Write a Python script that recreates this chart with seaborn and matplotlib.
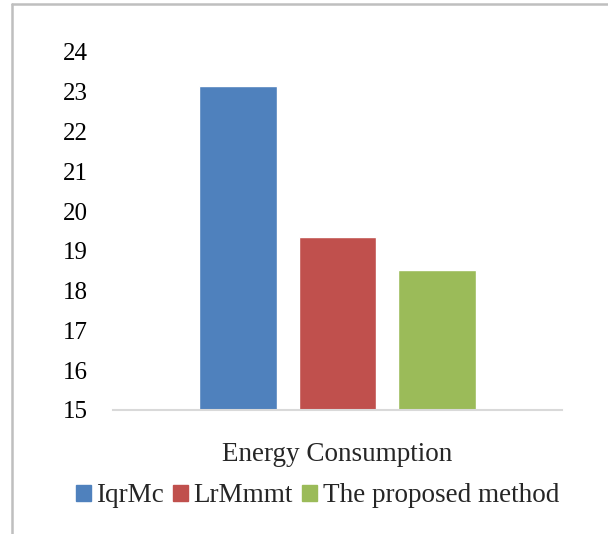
import pandas as pd
import seaborn as sns
import matplotlib.pyplot as plt
from matplotlib.lines import Line2D

# dados
categoria = ["Energy Consumption"]
metodos = ["IqrMc", "LrMmmt", "The proposed method"]
valores = [23.14, 19.36, 18.52]
cores = ["#4F81BD", "#C0504D", "#9BBB59"]
yticks = list(range(15, 25))

df = pd.DataFrame({
    "categoria": categoria * len(metodos),
    "metodo": metodos,
    "valor": valores,
})

sns.set_style("white")
plt.rcParams["font.family"] = ["Liberation Serif", "DejaVu Serif"]

fig = plt.figure(figsize=(6.08, 5.34), dpi=100)
ax = fig.add_axes([113 / 608, 1 - 410 / 534, 449 / 608, (410 - 52) / 534])

sns.barplot(data=df, x="categoria", y="valor", hue="metodo", palette=cores,
            saturation=1, width=0.668, gap=0.22, ax=ax, legend=False)

ax.set_ylim(15, 24)
ax.set_xlim(-0.5, 0.5)
ax.set_yticks(yticks)
ax.tick_params(axis="y", labelsize=18, length=0, pad=18, colors="#000000")
ax.tick_params(axis="x", labelsize=19.5, length=0, pad=23)
ax.set_xlabel("")
ax.set_ylabel("")
for lado in ["top", "right", "left"]:
    ax.spines[lado].set_visible(False)
ax.spines["bottom"].set_color("#D9D9D9")
ax.spines["bottom"].set_linewidth(1.5)

# legenda embaixo
handles = [plt.Rectangle((0, 0), 1, 1, color=c) for c in cores]
fig.legend(handles, metodos, loc="center", bbox_to_anchor=(0.522, 1 - 496 / 534),
           ncol=3, frameon=False, fontsize=19.5, handlelength=0.55, handleheight=0.55,
           handletextpad=0.2, columnspacing=0.35)

# borda cinza do quadro
fig.add_artist(Line2D([11.5 / 608, 11.5 / 608], [0, 1 - 4 / 534], color="#BFBFBF", lw=1.8))
fig.add_artist(Line2D([11.5 / 608, 1], [1 - 4 / 534, 1 - 4 / 534], color="#BFBFBF", lw=1.8))

fig.savefig("out.png", dpi=100)
